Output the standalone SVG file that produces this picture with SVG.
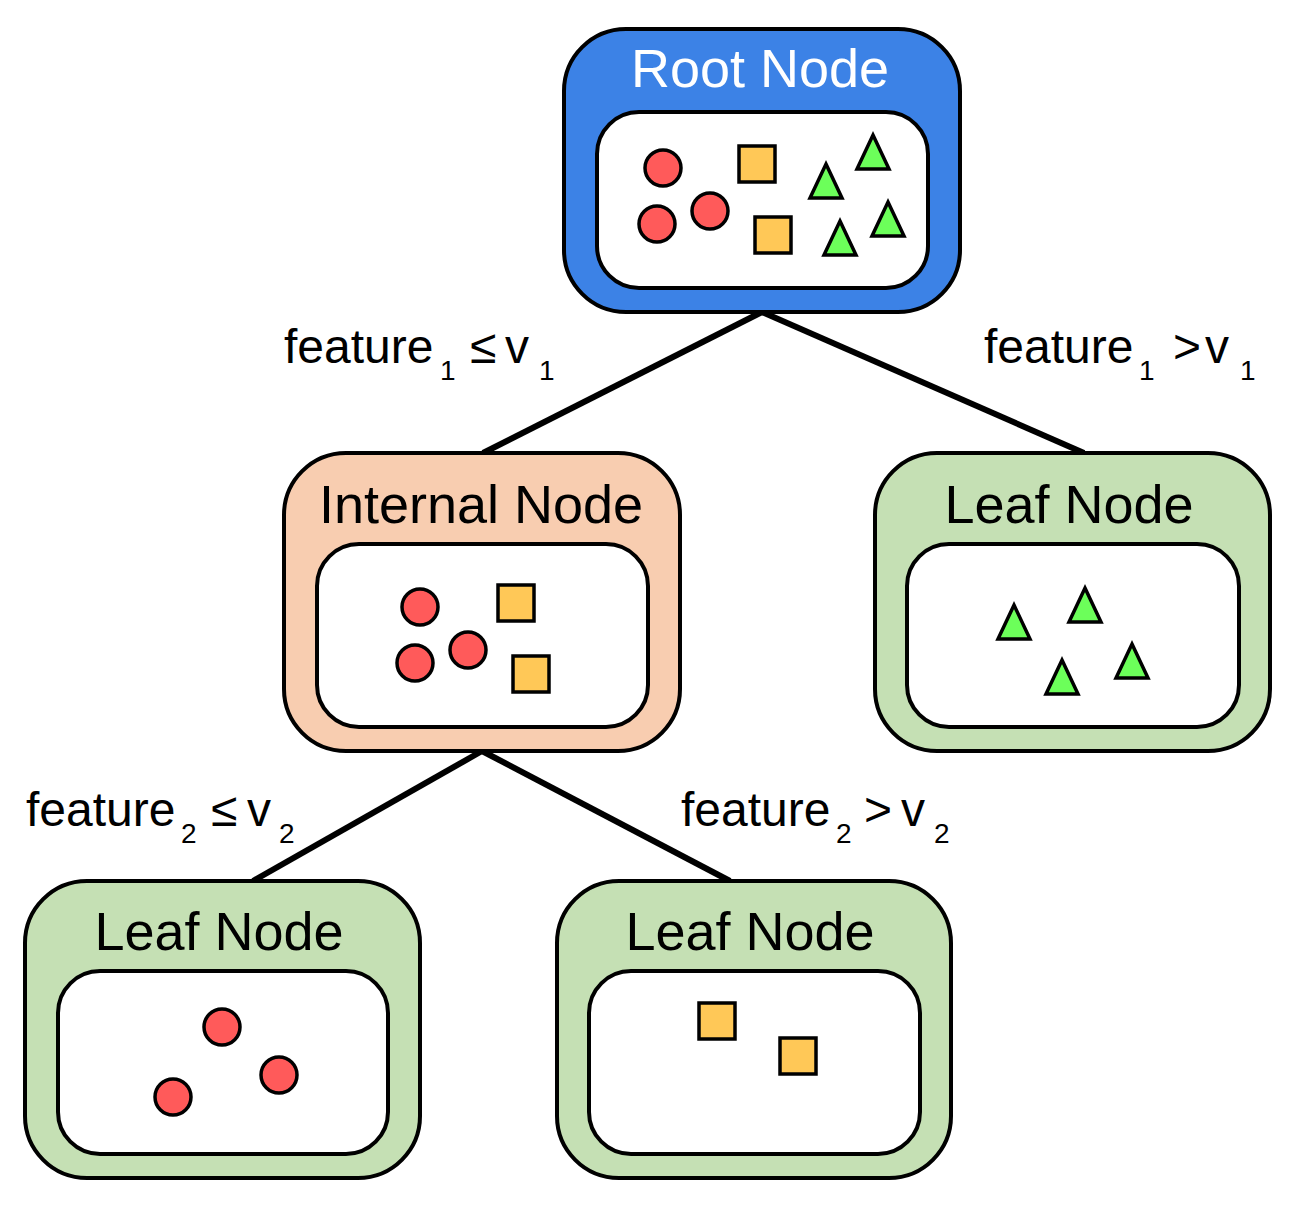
<svg xmlns="http://www.w3.org/2000/svg" width="1301" height="1212" viewBox="0 0 1301 1212">
<style>
.outer{stroke:#000;stroke-width:4}
.inner{fill:#fff;stroke:#000;stroke-width:4}
.title{font-family:"Liberation Sans",Arial,sans-serif;font-size:54px;text-anchor:middle}
.lbl{font-family:"Liberation Sans",Arial,sans-serif;font-size:48px;fill:#000}
.sub{font-size:28px}
.c{fill:#ff5a5a;stroke:#000;stroke-width:3.5}
.s{fill:#ffc857;stroke:#000;stroke-width:3.5}
.t{fill:#6cff5a;stroke:#000;stroke-width:3.5;stroke-linejoin:miter}
.edge{stroke:#000;stroke-width:6;fill:none}
</style>
<defs>
<circle id="circ" r="18" class="c"/>
<rect id="sq" x="-18" y="-18" width="36" height="36" class="s"/>
<polygon id="tri" points="0,-17 16,17 -16,17" class="t"/>
</defs>
<rect width="1301" height="1212" fill="#fff"/>
<g id="connectors">
<line class="edge" x1="762" y1="312" x2="483" y2="453"/>
<line class="edge" x1="762" y1="312" x2="1084" y2="453"/>
<line class="edge" x1="482" y1="751" x2="253" y2="881"/>
<line class="edge" x1="482" y1="751" x2="730" y2="881"/>
</g>
<g id="labels">
<text class="lbl" y="363"><tspan x="284">feature</tspan><tspan class="sub" x="440" y="380">1</tspan><tspan x="470" y="363">≤</tspan><tspan x="505">v</tspan><tspan class="sub" x="539" y="380">1</tspan></text>
<text class="lbl" y="363"><tspan x="984">feature</tspan><tspan class="sub" x="1139" y="380">1</tspan><tspan x="1173" y="363">&gt;</tspan><tspan x="1205">v</tspan><tspan class="sub" x="1240" y="380">1</tspan></text>
<text class="lbl" y="826"><tspan x="26">feature</tspan><tspan class="sub" x="181" y="843">2</tspan><tspan x="211" y="826">≤</tspan><tspan x="247">v</tspan><tspan class="sub" x="279" y="843">2</tspan></text>
<text class="lbl" y="826"><tspan x="681">feature</tspan><tspan class="sub" x="836" y="843">2</tspan><tspan x="864" y="826">&gt;</tspan><tspan x="901">v</tspan><tspan class="sub" x="934" y="843">2</tspan></text>
</g>
<g id="root">
<rect class="outer" x="564" y="29" width="396" height="283" rx="62" fill="#3c82e6"/>
<rect class="inner" x="597" y="112" width="331" height="176" rx="42"/>
<text class="title" x="760" y="87" fill="#fff">Root Node</text>
<use href="#circ" x="663" y="168"/>
<use href="#circ" x="657" y="224"/>
<use href="#circ" x="710" y="211"/>
<use href="#sq" x="757" y="164"/>
<use href="#sq" x="773" y="235"/>
<use href="#tri" x="826" y="181"/>
<use href="#tri" x="873" y="152"/>
<use href="#tri" x="840" y="238"/>
<use href="#tri" x="888" y="219"/>
</g>
<g id="internal">
<rect class="outer" x="284" y="453" width="396" height="298" rx="62" fill="#f8cdb0"/>
<rect class="inner" x="317" y="544" width="331" height="183" rx="42"/>
<text class="title" x="481" y="523" fill="#000">Internal Node</text>
<use href="#circ" x="420" y="607"/>
<use href="#circ" x="415" y="663"/>
<use href="#circ" x="468" y="650"/>
<use href="#sq" x="516" y="603"/>
<use href="#sq" x="531" y="674"/>
</g>
<g id="leaf-right">
<rect class="outer" x="875" y="453" width="395" height="298" rx="62" fill="#c5e0b4"/>
<rect class="inner" x="907" y="544" width="332" height="183" rx="42"/>
<text class="title" x="1069" y="523" fill="#000">Leaf Node</text>
<use href="#tri" x="1014" y="622"/>
<use href="#tri" x="1085" y="605"/>
<use href="#tri" x="1062" y="677"/>
<use href="#tri" x="1132" y="661"/>
</g>
<g id="leaf-left">
<rect class="outer" x="25" y="881" width="395" height="297" rx="62" fill="#c5e0b4"/>
<rect class="inner" x="58" y="971" width="330" height="183" rx="42"/>
<text class="title" x="219" y="950" fill="#000">Leaf Node</text>
<use href="#circ" x="222" y="1027"/>
<use href="#circ" x="279" y="1075"/>
<use href="#circ" x="173" y="1097"/>
</g>
<g id="leaf-middle">
<rect class="outer" x="557" y="881" width="394" height="297" rx="62" fill="#c5e0b4"/>
<rect class="inner" x="589" y="971" width="331" height="183" rx="42"/>
<text class="title" x="750" y="950" fill="#000">Leaf Node</text>
<use href="#sq" x="717" y="1021"/>
<use href="#sq" x="798" y="1056"/>
</g>
</svg>
